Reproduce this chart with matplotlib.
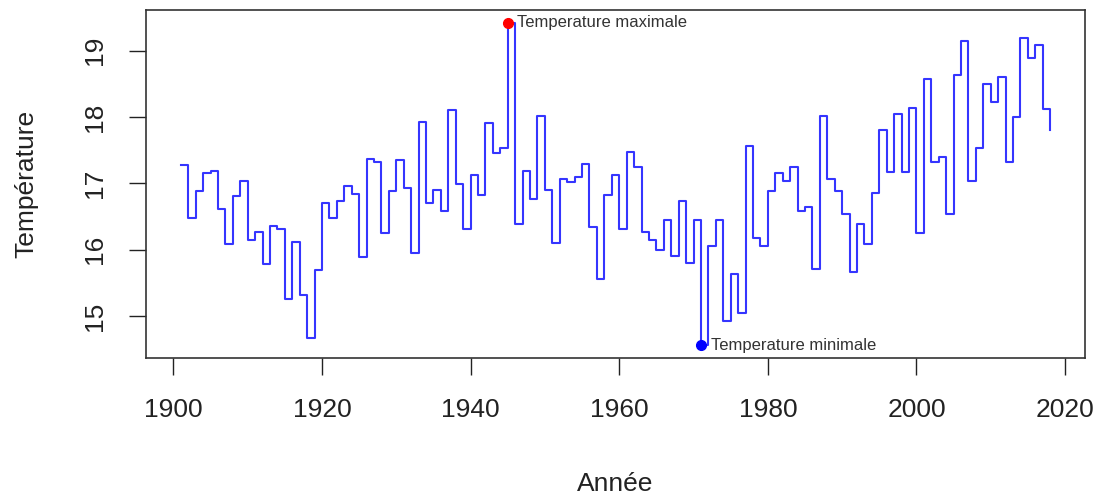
import numpy as np
import matplotlib.pyplot as plt

plt.rcParams['font.family'] = ['Liberation Sans', 'DejaVu Sans']

years = np.arange(1901, 2019)
temps = [
    17.27, 16.48, 16.89, 17.15, 17.18, 16.61, 16.09, 16.81, 17.03, 16.14,
    16.26, 15.78, 16.36, 16.31, 15.25, 16.12, 15.31, 14.67, 15.70, 16.71,
    16.48, 16.74, 16.96, 16.84, 15.89, 17.37, 17.32, 16.25, 16.88, 17.35,
    16.93, 15.95, 17.92, 16.71, 16.90, 16.59, 18.10, 16.99, 16.31, 17.13,
    16.83, 17.91, 17.46, 17.53, 19.42, 16.39, 17.18, 16.77, 18.02, 16.90,
    16.10, 17.07, 17.02, 17.09, 17.29, 16.34, 15.55, 16.82, 17.12, 16.31,
    17.48, 17.25, 16.27, 16.15, 16.00, 16.45, 15.90, 16.74, 15.80, 16.45,
    14.56, 16.05, 16.44, 14.93, 15.64, 15.05, 17.56, 16.17, 16.06, 16.88,
    17.15, 17.03, 17.24, 16.59, 16.64, 15.71, 18.01, 17.07, 16.89, 16.53,
    15.67, 16.38, 16.09, 16.86, 17.80, 17.17, 18.05, 17.17, 18.13, 16.25,
    18.57, 17.32, 17.39, 16.54, 18.64, 19.14, 17.04, 17.54, 18.50, 18.23,
    18.61, 17.32, 18.00, 19.19, 18.89, 19.09, 18.12, 17.80,
]
xticks = [1900, 1920, 1940, 1960, 1980, 2000, 2020]
yticks = [15, 16, 17, 18, 19]

temps = np.array(temps)
imax = np.argmax(temps)
imin = np.argmin(temps)

fig = plt.figure(figsize=(11.04, 4.95), dpi=100)
ax = fig.add_axes([146 / 1104, 1 - 358 / 495, (1085 - 146) / 1104, (358 - 10) / 495])

ax.step(years, temps, where='post', color='#3535ff', lw=1.5)
ax.plot(years[imax], temps[imax], 'o', color='red', ms=7)
ax.plot(years[imin], temps[imin], 'o', color='blue', ms=7)
ax.annotate('Temperature maximale', (years[imax], temps[imax]), xytext=(7, 0),
            textcoords='offset points', va='center', ha='left', fontsize=12, color='#333333')
ax.annotate('Temperature minimale', (years[imin], temps[imin]), xytext=(7, 0),
            textcoords='offset points', va='center', ha='left', fontsize=12, color='#333333')

rng = years[-1] - years[0]
ax.set_xlim(years[0] - 0.04 * rng, years[-1] + 0.04 * rng)
yr = temps.max() - temps.min()
ax.set_ylim(temps.min() - 0.04 * yr, temps.max() + 0.04 * yr)

ax.set_xticks(xticks)
ax.set_yticks(yticks)
ax.set_yticklabels([str(v) for v in yticks], rotation=90, va='center')
ax.tick_params(axis='both', direction='out', length=12, width=1, labelsize=19,
               color='#222222', labelcolor='#222222')
ax.tick_params(axis='x', pad=17)
ax.tick_params(axis='y', pad=16)
for s in ax.spines.values():
    s.set_color('#333333')
    s.set_linewidth(1.2)

ax.set_xlabel('Année', fontsize=19, labelpad=36, color='#222222')
ax.set_ylabel('Température', fontsize=19, labelpad=32, color='#222222')

fig.savefig('out.png', dpi=100)
